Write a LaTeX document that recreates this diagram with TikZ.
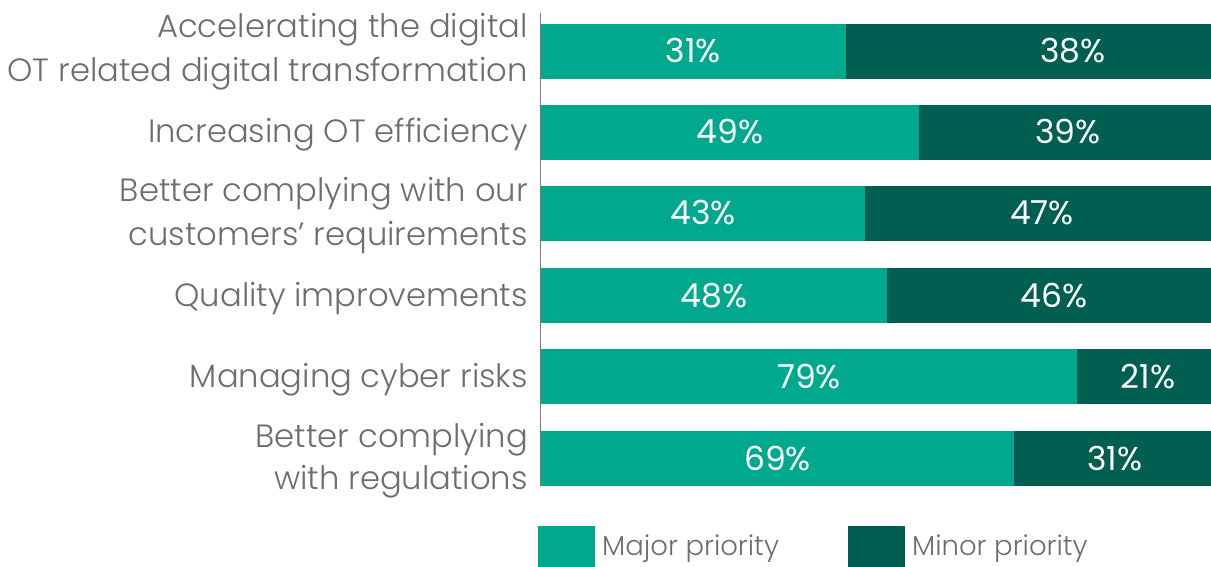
\documentclass[tikz,border=0pt]{standalone}
\usepackage{fontspec}
\IfFontExistsTF{Poppins Light}{\setmainfont{Poppins Light}}{\setmainfont{Poppins}}
\newfontfamily\pctfont{Poppins}
\definecolor{major}{HTML}{00A88E}
\definecolor{minor}{HTML}{005F50}
\definecolor{txt}{HTML}{6E6E6E}
\definecolor{axisc}{HTML}{7A7A7A}
\tikzset{
  lbl/.style={anchor=base east, inner sep=0pt, text=txt, font=\fontsize{32.2}{38}\selectfont},
  pct/.style={anchor=base, inner sep=0pt, text=white, font=\pctfont\fontsize{33}{38}\selectfont},
  leg/.style={anchor=base west, inner sep=0pt, text=txt, font=\fontsize{27.5}{32}\selectfont},
}
\begin{document}
\begin{tikzpicture}[x=1pt,y=-1pt]
\useasboundingbox (0,0) rectangle (1211,567);
% bars: top, split, major %, minor %, minor label centre
\foreach \t/\s/\a/\b/\c [count=\i] in {24/846/31/38/1073, 105/919/49/39/1068, 186/865/43/47/1042, 268/887/48/46/1054, 349/1077/79/21/1148, 431/1014/69/31/1115}{
  \fill[major] (541,\t) rectangle (\s,\t+55);
  \fill[minor] (\s,\t) rectangle (1211,\t+55);
  \node[pct] (ma\i) at ({(541+\s)/2},\t+39) {\a\%};
  \node[pct] (mi\i) at (\c,\t+39) {\b\%};
}
\draw[axisc, line width=1.5pt] (540.5,13) -- (540.5,486);
% labels
\node[lbl] (l1a) at (528,38) {Accelerating the digital};
\node[lbl] (l1b) at (528,82) {OT related digital transformation};
\node[lbl] (l2) at (528,143) {Increasing OT efficiency};
\node[lbl] (l3a) at (528,202) {Better complying with our};
\node[lbl] (l3b) at (528,245) {customers’ requirements};
\node[lbl] (l4) at (528,306) {Quality improvements};
\node[lbl] (l5) at (528,387) {Managing cyber risks};
\node[lbl] (l6a) at (528,447) {Better complying};
\node[lbl] (l6b) at (528,489) {with regulations};
% legend
\fill[major] (538,526) rectangle (595,567);
\fill[minor] (848,526) rectangle (905,567);
\node[leg] (lg1) at (602,555) {Major priority};
\node[leg] (lg2) at (912,555) {Minor priority};
\end{tikzpicture}
\end{document}
